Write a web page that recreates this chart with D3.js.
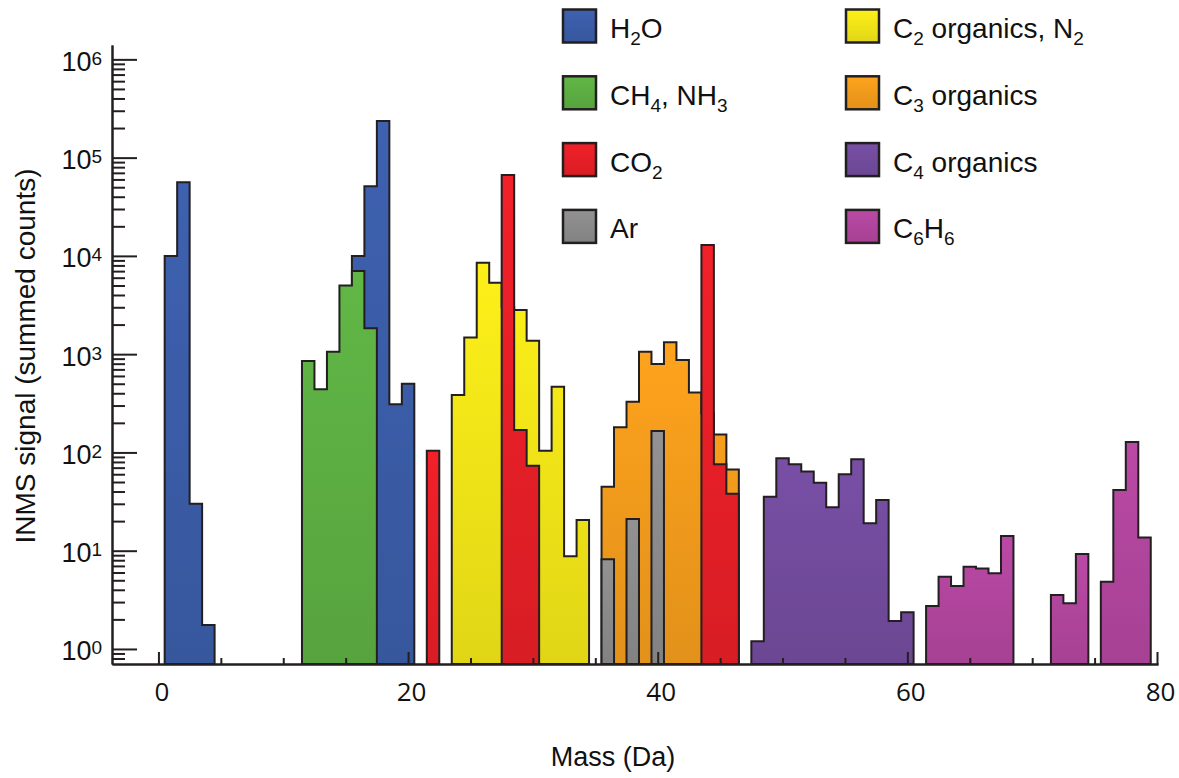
<!DOCTYPE html>
<meta charset="utf-8">
<script src="https://d3js.org/d3.v7.min.js"></script>
<style>

body {
    margin: 0;
    background: #fff;
}

text {
    font-family: "Liberation Sans", Arial, sans-serif;
    fill: #111;
}

.bar {
    stroke: #231f20;
    stroke-width: 2px;
    stroke-linejoin: miter;
}

.axis path, .axis line {
    stroke: #231f20;
    stroke-width: 2px;
    fill: none;
}

</style>
<body>
<script>
// summed counts per mass (Da)
var h2oMass = [1, 2, 3, 4, 16, 17, 18, 19, 20];
var h2oCounts = [10000, 56000, 30, 1.75, 10000, 51000, 236000, 310, 500];

var ch4Mass = [12, 13, 14, 15, 16, 17];
var ch4Counts = [850, 440, 1060, 5000, 7000, 1840];

var co2Mass = [22, 28, 29, 30, 44, 45, 46];
var co2Counts = [104, 66400, 169, 73, 12900, 76, 38];

var arMass = [36, 38, 40];
var arCounts = [8.2, 21, 165];

var c2Mass = [24, 25, 26, 27, 28, 29, 30, 31, 32, 33, 34];
var c2Counts = [384, 1480, 8500, 5320, 3000, 2810, 1370, 104, 466, 8.8, 20.5];

var c3Mass = [36, 37, 38, 39, 40, 41, 42, 43, 44, 45, 46];
var c3Counts = [44.8, 180, 328, 1058, 794, 1320, 870, 407, 250, 152, 67];

var c4Mass = [48, 49, 50, 51, 52, 53, 54, 55, 56, 57, 58, 59, 60];
var c4Counts = [1.2, 35.5, 87, 76, 64, 49, 27.6, 60, 85, 19, 32.8, 1.93, 2.36];

var c6h6Mass = [62, 63, 64, 65, 66, 67, 68, 72, 73, 74, 76, 77, 78, 79];
var c6h6Counts = [2.74, 5.44, 4.38, 6.87, 6.6, 5.89, 14.1, 3.54, 2.92, 9.25, 4.84, 41.4, 128, 13.6];

// legend labels, {n} = subscript
var legendLeft = ['H{2}O', 'CH{4}, NH{3}', 'CO{2}', 'Ar'];
var legendRight = ['C{2} organics, N{2}', 'C{3} organics', 'C{4} organics', 'C{6}H{6}'];

var xMajor = [0, 20, 40, 60, 80];

var colors = {
    h2o: '#3b5da9', ch4: '#5daf43', co2: '#e81f27', ar: '#8c8c8c',
    c2: '#f2e618', c3: '#f39c1c', c4: '#734c9e', c6h6: '#b2469e'
};

var series = [
    {key: 'h2o', mass: h2oMass, counts: h2oCounts},
    {key: 'ch4', mass: ch4Mass, counts: ch4Counts},
    {key: 'c2', mass: c2Mass, counts: c2Counts},
    {key: 'c3', mass: c3Mass, counts: c3Counts},
    {key: 'co2', mass: co2Mass, counts: co2Counts},
    {key: 'ar', mass: arMass, counts: arCounts},
    {key: 'c4', mass: c4Mass, counts: c4Counts},
    {key: 'c6h6', mass: c6h6Mass, counts: c6h6Counts}
];
var legendKeys = [['h2o', 'ch4', 'co2', 'ar'], ['c2', 'c3', 'c4', 'c6h6']];

var W = 1179, H = 778;
var plotLeft = 112, plotRight = 1158, plotTop = 45, plotBottom = 664;

var svg = d3.select('body')
    .append('svg')
    .attr('width', W)
    .attr('height', H);

var x = d3.scaleLinear().domain([-3.72, 80.08]).range([plotLeft, plotRight]);
var y = d3.scaleLog().domain([0.703, 1.4e6]).range([plotBottom, plotTop]);

// soft vertical shading like the original bars
var defs = svg.append('defs');
Object.keys(colors).forEach(function(k) {
    var g = defs.append('linearGradient')
        .attr('id', 'grad-' + k)
        .attr('x1', 0).attr('y1', 0).attr('x2', 0).attr('y2', 1);
    g.append('stop').attr('offset', '0%').attr('stop-color', d3.color(colors[k]).brighter(0.12));
    g.append('stop').attr('offset', '100%').attr('stop-color', d3.color(colors[k]).darker(0.2));
});

// split a series into runs of consecutive masses
function runs(mass, counts) {
    var out = [], cur = null;
    for (var i = 0; i < mass.length; i++) {
        if (cur && mass[i] == mass[i - 1] + 1) {
            cur.push({m: mass[i], v: counts[i]});
        } else {
            cur = [{m: mass[i], v: counts[i]}];
            out.push(cur);
        }
    }
    return out;
}

var area = d3.area()
    .curve(d3.curveStepAfter)
    .x(function(d) { return x(d.m); })
    .y0(plotBottom)
    .y1(function(d) { return y(d.v); });

var bars = svg.append('g');
series.forEach(function(s) {
    runs(s.mass, s.counts).forEach(function(r) {
        var pts = r.map(function(d) { return {m: d.m - 0.5, v: d.v}; });
        pts.push({m: r[r.length - 1].m + 0.5, v: r[r.length - 1].v});
        bars.append('path')
            .attr('class', 'bar')
            .attr('d', area(pts))
            .attr('fill', 'url(#grad-' + s.key + ')');
    });
});

// y axis: minor + major ticks pointing inward
var minor = y.ticks().filter(function(d) {
    var e = Math.log10(d);
    return Math.abs(e - Math.round(e)) > 1e-6;
});
var decades = y.ticks().filter(function(d) {
    var e = Math.log10(d);
    return Math.abs(e - Math.round(e)) < 1e-6;
});

svg.append('g')
    .attr('class', 'axis')
    .attr('transform', 'translate(' + plotLeft + ',0)')
    .call(d3.axisLeft(y).tickValues(minor).tickSize(-13).tickSizeOuter(0).tickFormat(''));

var yMajor = svg.append('g')
    .attr('class', 'axis')
    .attr('transform', 'translate(' + plotLeft + ',0)')
    .call(d3.axisLeft(y).tickValues(decades).tickSize(-25).tickSizeOuter(0).tickFormat(''));

yMajor.selectAll('.tick').each(function(d) {
    var t = d3.select(this).append('text')
        .attr('x', -10)
        .attr('y', 11)
        .attr('text-anchor', 'end')
        .style('font-family', '"Liberation Sans", Arial, sans-serif')
        .style('font-size', '27px')
        .style('fill', '#111');
    t.append('tspan').text('10');
    t.append('tspan')
        .attr('dy', -6)
        .style('font-size', '19px')
        .text(Math.round(Math.log10(d)));
});

// x axis
var x5 = d3.range(0, 81, 5).filter(function(d) { return d % 20 != 0; });
svg.append('g')
    .attr('class', 'axis')
    .attr('transform', 'translate(0,' + plotBottom + ')')
    .call(d3.axisBottom(x).tickValues(x5).tickSize(-6).tickSizeOuter(0).tickFormat(''));

var xAxis = svg.append('g')
    .attr('class', 'axis')
    .attr('transform', 'translate(0,' + plotBottom + ')')
    .call(d3.axisBottom(x).tickValues(xMajor).tickSize(-12).tickSizeOuter(0).tickFormat(d3.format('d')));

xAxis.selectAll('.tick text')
    .attr('x', 3)
    .attr('y', 37)
    .attr('dy', 0)
    .style('font-family', '"Open Sans", sans-serif')
    .style('font-size', '26px')
    .style('fill', '#111');

// axis titles
svg.append('text')
    .attr('x', 613)
    .attr('y', 766)
    .attr('text-anchor', 'middle')
    .style('font-size', '27px')
    .text('Mass (Da)');

svg.append('text')
    .attr('transform', 'translate(35,356) rotate(-90)')
    .attr('text-anchor', 'middle')
    .style('font-size', '28px')
    .text('INMS signal (summed counts)');

// legend
function addLabel(t, str) {
    var shift = 0;
    str.split(/(\{[^}]*\})/).forEach(function(p) {
        if (!p) return;
        var sub = p[0] == '{';
        var want = sub ? 7 : 0;
        var ts = t.append('tspan')
            .attr('dy', want - shift)
            .text(sub ? p.slice(1, -1) : p);
        if (sub) ts.style('font-size', '19px');
        shift = want;
    });
}

var legendX = [563, 846];
var legendLabels = [legendLeft, legendRight];
var legend = svg.append('g');
for (var c = 0; c < 2; c++) {
    for (var i = 0; i < 4; i++) {
        var cy = 26 + i * 66.8;
        legend.append('rect')
            .attr('x', legendX[c])
            .attr('y', cy - 16.5)
            .attr('width', 33)
            .attr('height', 33)
            .attr('fill', 'url(#grad-' + legendKeys[c][i] + ')')
            .attr('stroke', '#231f20')
            .attr('stroke-width', 2.5);
        var t = legend.append('text')
            .attr('x', legendX[c] + 47)
            .attr('y', cy + 12)
            .style('font-size', '28px');
        addLabel(t, legendLabels[c][i]);
    }
}

</script>
</body>
